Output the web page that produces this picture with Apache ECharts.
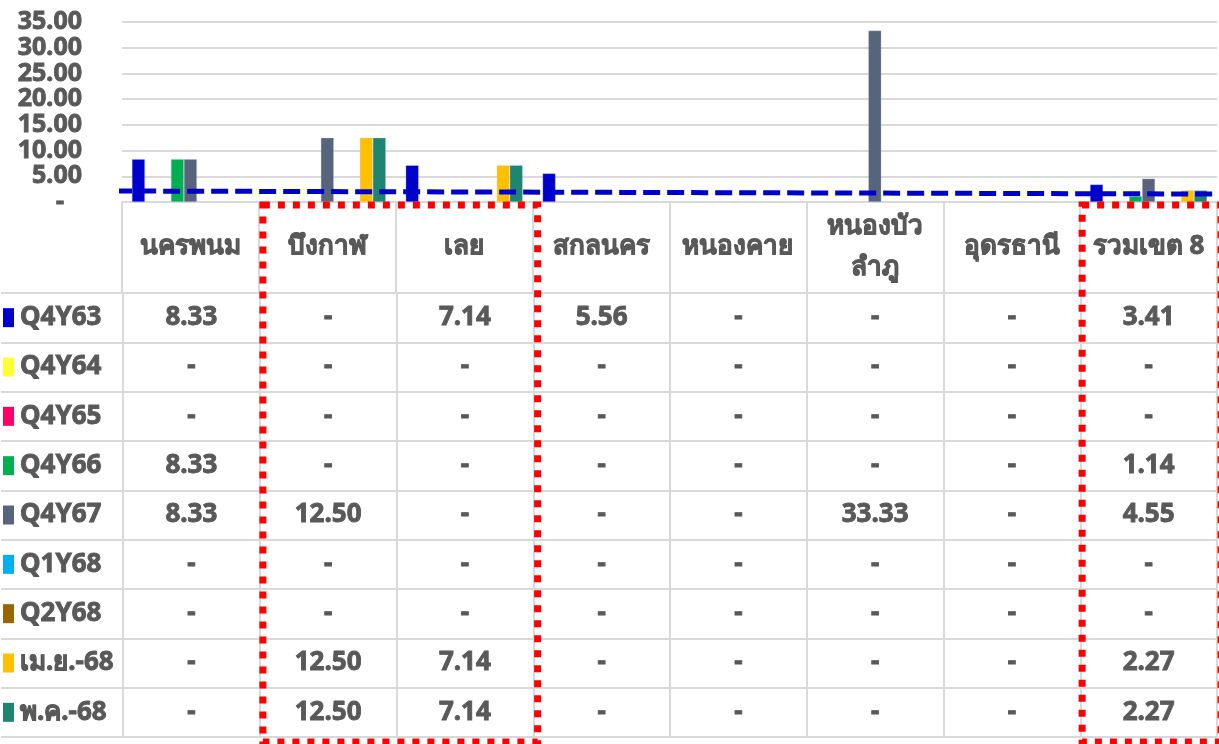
<!DOCTYPE html>
<html>
<head>
    <meta charset="utf-8" />
    <title>ร้อยละ รายจังหวัด เขต 8</title>
    <script type="text/javascript" src="https://cdn.jsdelivr.net/npm/echarts@6.0.0/dist/echarts.min.js"></script>
    <style>
        body { margin: 0; background: #fff; }
    </style>
</head>
<body>
<div id="main" style="width: 1219px;height:744px;"></div>
<script type="text/javascript">
    // ข้อมูล
    var categories = ['นครพนม', 'บึงกาฬ', 'เลย', 'สกลนคร', 'หนองคาย', 'หนองบัว\nลำภู', 'อุดรธานี', 'รวมเขต 8'];
    var seriesNames = ['Q4Y63', 'Q4Y64', 'Q4Y65', 'Q4Y66', 'Q4Y67', 'Q1Y68', 'Q2Y68', 'เม.ย.-68', 'พ.ค.-68'];
    var seriesColors = ['#0000CC', '#FFFF33', '#FF0066', '#00B050', '#56657C', '#00B0F0', '#996600', '#FFC000', '#1E8670'];

    var q4y63 = [8.33, 0, 7.14, 5.56, 0, 0, 0, 3.41];
    var q4y64 = [0, 0, 0, 0, 0, 0, 0, 0];
    var q4y65 = [0, 0, 0, 0, 0, 0, 0, 0];
    var q4y66 = [8.33, 0, 0, 0, 0, 0, 0, 1.14];
    var q4y67 = [8.33, 12.5, 0, 0, 0, 33.33, 0, 4.55];
    var q1y68 = [0, 0, 0, 0, 0, 0, 0, 0];
    var q2y68 = [0, 0, 0, 0, 0, 0, 0, 0];
    var apr68 = [0, 12.5, 7.14, 0, 0, 0, 0, 2.27];
    var may68 = [0, 12.5, 7.14, 0, 0, 0, 0, 2.27];
    var seriesValues = [q4y63, q4y64, q4y65, q4y66, q4y67, q1y68, q2y68, apr68, may68];

    var yTicks = [0, 5, 10, 15, 20, 25, 30, 35];
    var trendLine = [2.14, 1.55];   // เส้นแนวโน้ม ต้น / ปลาย

    var textColor = '#595959';
    var gridColor = '#d9d9d9';
    var fontFamily = '"Noto Sans", "DejaVu Sans", sans-serif';
    // ตัวหนังสือหนาแบบ Excel
    var heavy = { fontSize: 26, fontWeight: 700, fontFamily: fontFamily, color: textColor, textBorderColor: textColor, textBorderWidth: 0.9 };

    var myChart = echarts.init(document.getElementById('main'));

    // แท่งกราฟ
    var series = [];
    for (var i = 0; i < seriesNames.length; i++) {
        series.push({
            name: seriesNames[i],
            type: 'bar',
            xAxisIndex: 0,
            yAxisIndex: 0,
            barGap: '0%',
            barCategoryGap: '14.5%',
            itemStyle: { color: seriesColors[i], borderColor: 'rgba(210,210,255,0.6)', borderWidth: 0.5 },
            data: seriesValues[i].map(function (v) { return v > 0 ? v : '-'; })
        });
    }

    // เส้นแนวโน้ม (ประ)
    series.push({
        name: 'trend',
        type: 'line',
        xAxisIndex: 1,
        yAxisIndex: 0,
        clip: false,
        symbol: 'none',
        z: 5,
        lineStyle: { color: '#0000CC', width: 5, type: [17, 7] },
        data: [[-0.05, trendLine[0]], [7.97, trendLine[1]]]
    });

    // ตัวเลขในตาราง
    var cells = [];
    for (var r = 0; r < seriesNames.length; r++) {
        for (var c = 0; c < categories.length; c++) {
            cells.push([c, r, seriesValues[r][c]]);
        }
    }
    series.push({
        name: 'table',
        type: 'scatter',
        xAxisIndex: 2,
        yAxisIndex: 1,
        silent: true,
        symbol: 'rect',
        symbolSize: 2,
        itemStyle: { color: 'rgba(0,0,0,0)', opacity: 1 },
        label: Object.assign({
            show: true,
            position: 'inside',
            formatter: function (p) {
                var v = p.value[2];
                return v > 0 ? v.toFixed(2) : '-';
            }
        }, heavy),
        data: cells
    });

    // สี่เหลี่ยมสีหน้าชื่อชุดข้อมูล
    var rich = { t: Object.assign({ padding: [0, 0, 0, 6] }, heavy) };
    seriesColors.forEach(function (col, idx) {
        rich['s' + idx] = { width: 11, height: 19, backgroundColor: col };
    });

    var yLabelStyle = Object.assign({}, heavy, { fontSize: 25, lineHeight: 25 });

    var option = {
        animation: false,
        textStyle: { fontFamily: fontFamily },
        grid: [
            { left: 122, right: 2, top: 22, height: 180 },
            { left: 122, right: 2, top: 293, bottom: 7 }
        ],
        xAxis: [
            {
                type: 'category',
                gridIndex: 0,
                data: categories,
                axisLine: { lineStyle: { color: gridColor, width: 2 } },
                axisTick: { show: true, length: 91, lineStyle: { color: gridColor, width: 2 } },
                axisLabel: Object.assign({
                    interval: 0,
                    margin: 45,
                    verticalAlign: 'middle',
                    lineHeight: 41
                }, heavy)
            },
            {
                type: 'value',
                gridIndex: 0,
                min: 0,
                max: 8,
                show: false
            },
            {
                type: 'category',
                gridIndex: 1,
                data: categories,
                axisLine: { show: true, lineStyle: { color: gridColor, width: 2 } },
                axisTick: { show: false },
                axisLabel: { show: false },
                splitLine: { show: true, lineStyle: { color: gridColor, width: 2 } }
            }
        ],
        yAxis: [
            {
                type: 'value',
                gridIndex: 0,
                min: yTicks[0],
                max: yTicks[yTicks.length - 1],
                interval: 5,
                axisLine: { show: false },
                axisTick: { show: false },
                splitLine: { lineStyle: { color: gridColor, width: 2 } },
                axisLabel: Object.assign({
                    margin: 40,
                    showMinLabel: true,
                    showMaxLabel: true,
                    hideOverlap: false,
                    formatter: function (v) { return v === 0 ? '{d|-}' : v.toFixed(2); },
                    rich: { d: Object.assign({ padding: [0, 18, 0, 0] }, yLabelStyle) }
                }, yLabelStyle)
            },
            {
                type: 'category',
                gridIndex: 1,
                inverse: true,
                data: seriesNames,
                axisLine: { show: true, lineStyle: { color: gridColor, width: 2 } },
                axisTick: { show: true, length: 122, lineStyle: { color: gridColor, width: 2 } },
                splitLine: { show: true, lineStyle: { color: gridColor, width: 2 } },
                axisLabel: {
                    align: 'left',
                    margin: 120,
                    formatter: function (v, idx) { return '{s' + idx + '|}{t|' + v + '}'; },
                    rich: rich
                }
            }
        ],
        series: series
    };
    myChart.setOption(option);

    // กรอบเส้นประสีแดง (บึงกาฬ-เลย และ รวมเขต 8)
    function colEdge(idx) {
        var a = myChart.convertToPixel({ xAxisIndex: 0 }, 0);
        var b = myChart.convertToPixel({ xAxisIndex: 0 }, 1);
        var band = b - a;
        return a - band / 2 + idx * band;
    }
    var topY = myChart.convertToPixel({ yAxisIndex: 0 }, 0) + 3;
    var bottomY = 744 - 7 + 5;
    var boxStyle = { stroke: '#FF0000', fill: null, lineWidth: 7, lineDash: [7, 8] };
    myChart.setOption({
        graphic: [
            { type: 'rect', z: 100, shape: { x: colEdge(1) + 4, y: topY, width: colEdge(3) - colEdge(1) + 1, height: bottomY - topY }, style: boxStyle },
            { type: 'rect', z: 100, shape: { x: colEdge(7) + 2, y: topY, width: colEdge(8) - colEdge(7) + 2, height: bottomY - topY }, style: boxStyle }
        ]
    });
</script>
</body>
</html>
